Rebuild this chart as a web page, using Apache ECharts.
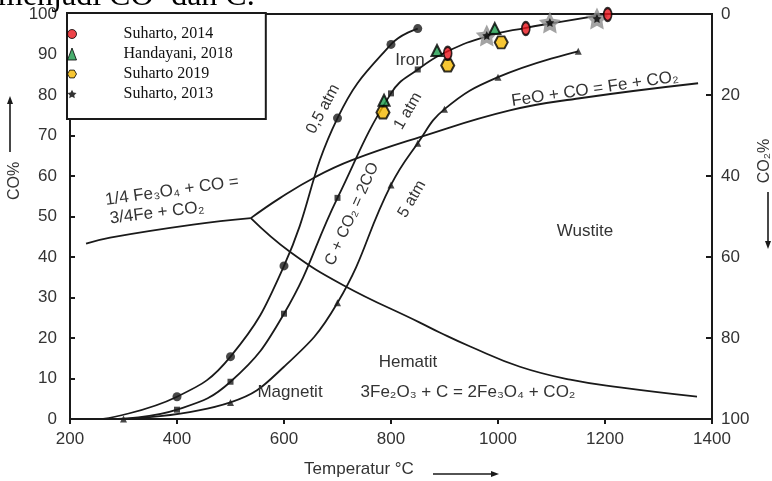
<!DOCTYPE html>
<html>
<head>
<meta charset="utf-8">
<script src="https://cdn.jsdelivr.net/npm/echarts@6/dist/echarts.min.js"></script>
<style>
html,body{margin:0;padding:0;background:#fff;overflow:hidden}
#chart{width:772px;height:481px}
</style>
</head>
<body>
<div id="chart"></div>
<script>
// ---- Boudouard curves (C + CO2 = 2CO): temperature (°C) vs CO (%) ----
const boud05T  = [262, 400, 500, 600, 700, 800, 850];
const boud05CO = [0, 5.5, 15.4, 37.8, 74.3, 92.5, 96.4];
const boud05MarkT  = [400, 500, 600, 700, 800, 850];
const boud05MarkCO = [5.5, 15.4, 37.8, 74.3, 92.5, 96.4];

const boud1T  = [290, 400, 500, 600, 700, 800, 850, 906, 979, 1052, 1100, 1205];
const boud1CO = [0, 2.3, 9.2, 26, 54.6, 80.4, 86.3, 90.8, 94.5, 96.6, 97.7, 100];
const boud1MarkT  = [400, 500, 600, 700, 800, 850];
const boud1MarkCO = [2.3, 9.2, 26, 54.6, 80.4, 86.3];

const boud5T  = [300, 500, 600, 700, 800, 850, 900, 1000, 1150];
const boud5CO = [0, 4.1, 12.9, 28.7, 57.8, 68.1, 76.5, 84.4, 90.8];
const boud5MarkT  = [300, 500, 700, 800, 850, 900, 1000, 1150];
const boud5MarkCO = [0, 4.1, 28.7, 57.8, 68.1, 76.5, 84.4, 90.8];

// ---- Phase boundaries ----
const fe3o4FeT  = [230, 275, 430, 538];
const fe3o4FeCO = [43.3, 44.8, 48, 49.6];

const feoFeT  = [538, 593, 658, 727, 854, 1022, 1153, 1374];
const feoFeCO = [49.6, 54.6, 59.7, 63.9, 69.6, 76.2, 79.2, 82.9];

const fe3o4FeoT  = [538, 611, 710, 854, 892, 948, 1041, 1135, 1228, 1372];
const fe3o4FeoCO = [49.6, 41.3, 33.1, 23.8, 21.3, 17.9, 12.9, 9.7, 7.8, 5.5];

// ---- Experimental points ----
const suharto2014T  = [906, 1052, 1205];
const suharto2014CO = [90.3, 96.4, 99.9];
const handayani2018T  = [787, 886, 994];
const handayani2018CO = [78.7, 91.0, 96.4];
const suharto2019T  = [785, 906, 1006];
const suharto2019CO = [75.7, 87.3, 93.0];
const suharto2013T  = [979, 1097, 1185];
const suharto2013CO = [94.7, 97.9, 98.9];

const legendNames = ['Suharto, 2014', 'Handayani, 2018', 'Suharto 2019', 'Suharto, 2013'];
const xTicks = [200, 1400, 200];   // min, max, step
const yLeftTicks = [0, 100, 10];
const yRightTicks = [0, 100, 20];

const SANS = '"Liberation Sans", Arial, sans-serif';
const SERIF = '"Liberation Serif", "Times New Roman", serif';
const INK = '#1a1a1a';
const TXT = '#333';
const HEX = 'path://M-10,0 L-5,-8.66 L5,-8.66 L10,0 L5,8.66 L-5,8.66 Z';
const STAR = 'path://M0,-10 L2.94,-4.05 L9.51,-3.09 L4.76,1.55 L5.88,8.09 L0,5 L-5.88,8.09 L-4.76,1.55 L-9.51,-3.09 L-2.94,-4.05 Z';

function pts(xs, ys) { return xs.map((x, i) => [x, ys[i]]); }

function curve(xs, ys) {
  return {
    type: 'line', data: pts(xs, ys), smooth: 0.45,
    symbol: 'none', showSymbol: false, silent: true, z: 2,
    lineStyle: { color: INK, width: 1.8 }
  };
}
function dots(xs, ys, symbol, size) {
  return {
    type: 'scatter', data: pts(xs, ys), symbol: symbol, symbolSize: size,
    itemStyle: { color: INK }, silent: true, z: 3, clip: false
  };
}

// annotation texts drawn on the chart
const notes = [
  { t: '0,5 atm', x: 323, y: 109, r: 62, s: 16 },
  { t: '1 atm', x: 408, y: 111, r: 60, s: 16 },
  { t: 'C + CO\u2082 = 2CO', x: 352, y: 214, r: 66, s: 16 },
  { t: '5 atm', x: 412, y: 199, r: 60, s: 16 },
  { t: 'Iron', x: 410, y: 60, r: 0, s: 17 },
  { t: 'FeO + CO = Fe + CO\u2082', x: 595, y: 89, r: 8.4, s: 17 },
  { t: '1/4 Fe\u2083O\u2084 + CO =', x: 172, y: 191, r: 8, s: 17 },
  { t: '3/4Fe + CO\u2082', x: 157, y: 213, r: 7, s: 17 },
  { t: 'Wustite', x: 585, y: 231, r: 0, s: 17 },
  { t: 'Hematit', x: 408, y: 362, r: 0, s: 17 },
  { t: 'Magnetit', x: 290, y: 392, r: 0, s: 17 },
  { t: '3Fe\u2082O\u2083 + C = 2Fe\u2083O\u2084 + CO\u2082', x: 468, y: 392, r: 0, s: 17 },
  { t: 'Temperatur \u00b0C', x: 359, y: 469, r: 0, s: 17 },
  { t: 'CO%', x: 15, y: 181, r: 90, s: 16 },
  { t: 'CO\u2082%', x: 765, y: 161, r: 90, s: 16 }
];

const graphics = notes.map(n => ({
  type: 'text', x: n.x, y: n.y, rotation: n.r * Math.PI / 180, z: 50, silent: true,
  style: { text: n.t, fill: TXT, font: n.s + 'px ' + SANS, textAlign: 'center', textVerticalAlign: 'middle' }
}));

// arrows beside the axis titles
function arrow(x1, y1, x2, y2) {
  const a = Math.atan2(y2 - y1, x2 - x1), L = 8, W = 3;
  const bx = x2 - L * Math.cos(a), by = y2 - L * Math.sin(a);
  return [
    { type: 'line', silent: true, z: 50, shape: { x1: x1, y1: y1, x2: bx, y2: by }, style: { stroke: INK, lineWidth: 1.6 } },
    { type: 'polygon', silent: true, z: 50, shape: { points: [[x2, y2], [bx - W * Math.sin(a), by + W * Math.cos(a)], [bx + W * Math.sin(a), by - W * Math.cos(a)]] }, style: { fill: INK } }
  ];
}
graphics.push(...arrow(10, 152, 10, 96));
graphics.push(...arrow(768, 192, 768, 249));
graphics.push(...arrow(433, 474, 499, 474));

// caption line running off the top edge
graphics.push({
  type: 'text', x: -2, y: -3, silent: true, z: 50,
  style: { text: 'menjadi CO\u00b2 dan C.', fill: '#000', font: '32px ' + SERIF, textAlign: 'left', textVerticalAlign: 'middle' }
});

const series = [
  curve(boud05T, boud05CO),
  curve(boud1T, boud1CO),
  curve(boud5T, boud5CO),
  curve(fe3o4FeT, fe3o4FeCO),
  curve(feoFeT, feoFeCO),
  curve(fe3o4FeoT, fe3o4FeoCO),
  dots(boud05MarkT, boud05MarkCO, 'circle', 9),
  dots(boud1MarkT, boud1MarkCO, 'rect', 6),
  dots(boud5MarkT, boud5MarkCO, 'triangle', 7),
  {
    type: 'scatter', data: pts(suharto2013T, suharto2013CO), symbol: STAR,
    symbolSize: 22, itemStyle: { color: '#8c8c8c' }, silent: true, z: 4, clip: false
  },
  {
    name: legendNames[3], type: 'scatter', data: pts(suharto2013T, suharto2013CO), symbol: STAR,
    symbolSize: 9, itemStyle: { color: '#000' }, silent: true, z: 5, clip: false
  },
  {
    name: legendNames[1], type: 'scatter', data: pts(handayani2018T, handayani2018CO), symbol: 'triangle',
    symbolSize: [11, 11], itemStyle: { color: '#1a9a4a', borderColor: '#000', borderWidth: 2 }, silent: true, z: 6, clip: false
  },
  {
    name: legendNames[2], type: 'scatter', data: pts(suharto2019T, suharto2019CO), symbol: HEX,
    symbolSize: [13, 12], itemStyle: { color: '#f5b800', borderColor: '#000', borderWidth: 2 }, silent: true, z: 6, clip: false
  },
  {
    name: legendNames[0], type: 'scatter', data: pts(suharto2014T, suharto2014CO), symbol: 'circle',
    symbolSize: [8, 13], itemStyle: { color: '#e8141b', borderColor: '#000', borderWidth: 2 }, silent: true, z: 7, clip: false
  }
];

const axisLineStyle = { color: INK, width: 2 };
const plainNum = v => String(v);

const option = {
  animation: false,
  backgroundColor: '#fff',
  grid: { left: 70, right: 60, top: 14, bottom: 62, show: true, borderColor: INK, borderWidth: 2, backgroundColor: 'transparent' },
  xAxis: {
    type: 'value', min: xTicks[0], max: xTicks[1], interval: xTicks[2],
    axisLine: { show: true, onZero: false, lineStyle: axisLineStyle },
    axisTick: { show: true, inside: false, length: 5, lineStyle: axisLineStyle },
    axisLabel: { color: TXT, fontSize: 17, fontFamily: SANS, margin: 12, formatter: plainNum },
    splitLine: { show: false }
  },
  yAxis: [
    {
      type: 'value', position: 'left', min: yLeftTicks[0], max: yLeftTicks[1], interval: yLeftTicks[2],
      axisLine: { show: true, onZero: false, lineStyle: axisLineStyle },
      axisTick: { show: true, inside: true, length: 5, lineStyle: axisLineStyle },
      axisLabel: { color: TXT, fontSize: 17, fontFamily: SANS, margin: 13, formatter: plainNum },
      splitLine: { show: false }
    },
    {
      type: 'value', position: 'right', inverse: true, min: yRightTicks[0], max: yRightTicks[1], interval: yRightTicks[2],
      axisLine: { show: true, onZero: false, lineStyle: axisLineStyle },
      axisTick: { show: true, inside: true, length: 6, lineStyle: axisLineStyle },
      axisLabel: { color: TXT, fontSize: 17, fontFamily: SANS, margin: 9, formatter: plainNum },
      splitLine: { show: false }
    }
  ],
  legend: {
    orient: 'vertical', left: 67, top: 13, data: legendNames, selectedMode: false,
    itemWidth: 9, itemHeight: 12, itemGap: 0, padding: [11, 33, 15, 0],
    backgroundColor: '#fff', borderColor: INK, borderWidth: 2, borderRadius: 0, z: 20,
    itemStyle: { borderWidth: 1 },
    textStyle: { fontFamily: SERIF, fontSize: 16, color: '#111', lineHeight: 20, padding: [0, 0, 0, 42] }
  },
  graphic: graphics,
  series: series
};

const chart = echarts.init(document.getElementById('chart'));
chart.setOption(option);
</script>
</body>
</html>
